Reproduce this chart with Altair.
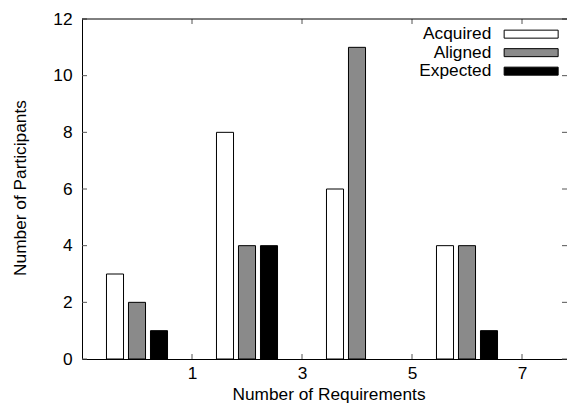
import altair as alt
import pandas as pd

# ---- data ----
groups = [0, 2, 4, 6]
series = ["Acquired", "Aligned", "Expected"]
acquired = [3, 8, 6, 4]
aligned = [2, 4, 11, 4]
expected = [1, 4, 0, 1]
x_ticks = [1, 3, 5, 7]
y_ticks = [0, 2, 4, 6, 8, 10, 12]

rows = []
for i, g in enumerate(groups):
    for s, vals in zip(series, [acquired, aligned, expected]):
        rows.append({"group": g, "series": s, "value": vals[i]})
df = pd.DataFrame(rows)

FONT = "Liberation Sans"
FS = 17.3
W, H = 485, 340

xscale = alt.Scale(domain=[-1, -1 + W / 55.0], nice=False, zero=False)
yscale = alt.Scale(domain=[0, 12], nice=False, zero=False)
fill_scale = alt.Scale(domain=series, range=["#ffffff", "#8a8a8a", "#000000"])

xaxis = alt.Axis(
    values=x_ticks, title="Number of Requirements", ticks=False, tickSize=0,
    labelPadding=19, labelBaseline="alphabetic", labelFontSize=FS, titleFontSize=FS,
    titleX=246.5, titleY=40, titleBaseline="alphabetic", titleAlign="center",
    grid=False, labelFlush=False)
yaxis = alt.Axis(
    values=y_ticks, title="Number of Participants", ticks=False, tickSize=0,
    labelPadding=10, labelFontSize=FS, titleFontSize=FS, titleAngle=270,
    titleX=-57, titleY=H / 2 - 1.5, titleBaseline="alphabetic", titleAlign="center",
    grid=False)

bars = alt.Chart(df).transform_filter(
    "datum.value > 0"
).transform_calculate(
    idx="indexof(['Acquired','Aligned','Expected'], datum.series)"
).transform_calculate(
    xc="datum.group + (datum.idx - 1) * 0.4"
).transform_calculate(
    x0="datum.xc - 0.155", x1="datum.xc + 0.155"
).mark_rect(stroke="black", strokeWidth=1).encode(
    x=alt.X("x0:Q", scale=xscale, axis=xaxis),
    x2="x1:Q",
    y=alt.Y("value:Q", scale=yscale, axis=yaxis),
    y2=alt.datum(0),
    fill=alt.Fill("series:N", scale=fill_scale, legend=alt.Legend(
        orient="none", legendX=440.5, legendY=6.5, title=None,
        symbolType="M-4,-0.593H4V0.593H-4Z", symbolSize=182.25,
        symbolStrokeColor="black", symbolStrokeWidth=1, symbolOpacity=1,
        labelAlign="right", labelOffset={"expr": "-48.5"}, labelFontSize=FS, labelFont=FONT,
        labelColor="black", rowPadding=0.5, padding=0)),
)

xt = pd.DataFrame({"t": x_ticks})
yt = pd.DataFrame({"t": y_ticks})
TICK = "#555555"
xtick_bottom = alt.Chart(xt).mark_rule(color=TICK).encode(
    x=alt.X("t:Q", scale=xscale, axis=xaxis), y=alt.value(H), y2=alt.value(H - 5))
xtick_top = alt.Chart(xt).mark_rule(color=TICK).encode(
    x=alt.X("t:Q", scale=xscale, axis=xaxis), y=alt.value(0), y2=alt.value(5))
ytick_left = alt.Chart(yt).mark_rule(color=TICK).encode(
    y=alt.Y("t:Q", scale=yscale, axis=yaxis), x=alt.value(0), x2=alt.value(5))
ytick_right = alt.Chart(yt).mark_rule(color=TICK).encode(
    y=alt.Y("t:Q", scale=yscale, axis=yaxis), x=alt.value(W), x2=alt.value(W - 5))

top_border = alt.Chart(pd.DataFrame({"v": [max(y_ticks)]})).mark_rule(color="black").encode(
    y=alt.Y("v:Q", scale=yscale, axis=yaxis), x=alt.value(0), x2=alt.value(W))

chart = alt.layer(bars, xtick_bottom, xtick_top, ytick_left, ytick_right, top_border).properties(
    width=W, height=H,
    autosize=alt.AutoSizeParams(type="none"),
    padding={"left": 74, "top": 11, "right": 0, "bottom": 44},
).configure_view(stroke=None).configure_axis(
    domainColor="black", domainWidth=1, labelColor="black", titleColor="black",
    labelFont=FONT, titleFont=FONT, titleFontWeight="normal",
).configure_legend(labelFont=FONT)

chart.save("out.html", embed_options={"renderer": "svg", "actions": False})
